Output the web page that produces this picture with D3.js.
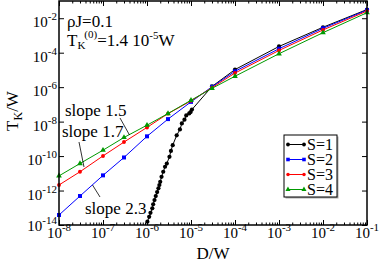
<!DOCTYPE html>
<html>
<head>
<meta charset="utf-8">
<script src="https://d3js.org/d3.v7.min.js"></script>
</head>
<body style="margin:0;background:#fff">
<script>
// Data
const dGrid = [1e-8, 3e-8, 1e-7, 3e-7, 1e-6, 3e-6, 1e-5, 3e-5, 1e-4, 1e-3, 1e-2, 1e-1];
const tkS2 = [3.8e-14, 4.8e-13, 7.6e-12, 8.3e-11, 1.4e-9, 1.4e-8, 1.4e-7, 1.05e-6, 8.3e-6, 1.7e-4, 2.6e-3, 2.95e-2];
const tkS3 = [2.1e-12, 1.23e-11, 1.02e-10, 6.5e-10, 4.6e-9, 2.9e-8, 1.6e-7, 9.3e-7, 6.6e-6, 1.35e-4, 2.1e-3, 2.6e-2];
const tkS4 = [7.1e-12, 3.7e-11, 2.2e-10, 1.2e-9, 6.2e-9, 2.95e-8, 1.74e-7, 8.5e-7, 4.3e-6, 8.7e-5, 1.45e-3, 2.1e-2];
const dS1 = [1.02e-6, 1.12e-6, 1.2e-6, 1.32e-6, 1.38e-6, 1.48e-6, 1.58e-6, 1.7e-6, 1.82e-6, 1.91e-6,
             2.0e-6, 2.14e-6, 2.34e-6, 2.57e-6, 2.82e-6, 3.24e-6, 3.5e-6, 3.84e-6, 4.73e-6, 5.6e-6,
             6.2e-6, 7.1e-6, 7.8e-6, 9.1e-6, 9.8e-6, 1.05e-5, 3e-5, 1e-4, 1e-3, 1e-2, 1e-1];
const tkS1 = [1.55e-14, 3.0e-14, 5.1e-14, 9.3e-14, 1.6e-13, 2.8e-13, 4.8e-13, 8.1e-13, 1.35e-12, 2.1e-12,
              3.2e-12, 6.3e-12, 1.23e-11, 2.4e-11, 3.7e-11, 9.1e-11, 2.0e-10, 4.3e-10, 1.6e-9, 3.5e-9,
              7.8e-9, 1.3e-8, 2.3e-8, 3.0e-8, 3.6e-8, 5.0e-8, 1.1e-6, 1.05e-5, 2.3e-4, 3.0e-3, 3.2e-2];
const seriesNames = ["S=1", "S=2", "S=3", "S=4"];
const xTickExp = [-8, -7, -6, -5, -4, -3, -2, -1];
const yTickExp = [-14, -12, -10, -8, -6, -4, -2];

const W = 382, H = 264;
const margin = { top: 1, right: 15, bottom: 39, left: 59 };
const width = W - margin.left - margin.right,
      height = H - margin.top - margin.bottom;

const svg = d3.select("body").append("svg")
    .attr("width", W).attr("height", H);
const g = svg.append("g")
    .attr("transform", "translate(" + margin.left + "," + margin.top + ")");

const x = d3.scaleLog().domain([1e-8, 1e-1]).range([0, width]);
const y = d3.scaleLog().domain([1e-14, 1e-1]).range([height, 0]);

// minor x ticks 2..9 per decade
const xMinor = [];
xTickExp.slice(0, -1).forEach(e => { for (let k = 2; k < 10; k++) xMinor.push(k * Math.pow(10, e)); });
const xMajor = xTickExp.map(e => Math.pow(10, e));
const yMajor = yTickExp.map(e => Math.pow(10, e));

function tickAxis(axis, transform) {
  const a = g.append("g").attr("transform", transform).call(axis);
  a.select(".domain").remove();
  a.selectAll("line").attr("stroke", "#000").attr("stroke-width", 1);
  return a;
}
tickAxis(d3.axisBottom(x).tickValues(xMajor).tickSize(-5).tickFormat(""), `translate(0,${height})`);
tickAxis(d3.axisBottom(x).tickValues(xMinor).tickSize(-2.5).tickFormat(""), `translate(0,${height})`);
tickAxis(d3.axisTop(x).tickValues(xMajor).tickSize(-5).tickFormat(""), "translate(0,0)");
tickAxis(d3.axisTop(x).tickValues(xMinor).tickSize(-2.5).tickFormat(""), "translate(0,0)");
tickAxis(d3.axisLeft(y).tickValues(yMajor).tickSize(-5).tickFormat(""), "translate(0,0)");
tickAxis(d3.axisRight(y).tickValues(yMajor).tickSize(-5).tickFormat(""), `translate(${width},0)`);

// tick labels 10^n
xTickExp.forEach(e => {
  const t = g.append("text")
      .attr("x", x(Math.pow(10, e))).attr("y", height + 12.5)
      .attr("text-anchor", "middle").style("font-size", "15px");
  t.append("tspan").text("10");
  t.append("tspan").attr("dy", -7).style("font-size", "11px").text(e);
});
yTickExp.forEach(e => {
  const t = g.append("text")
      .attr("x", -2).attr("y", y(Math.pow(10, e)) + (e === -14 ? 6 : 9))
      .attr("text-anchor", "end").style("font-size", "15px");
  t.append("tspan").text("10");
  t.append("tspan").attr("dy", -7).style("font-size", "11px").text(e);
});

// axis titles
g.append("text").attr("x", width / 2).attr("y", height + 34)
    .attr("text-anchor", "middle").style("font-size", "17px").text("D/W");
const yt = svg.append("text")
    .attr("transform", `translate(18,${margin.top + 110}) rotate(-90)`)
    .attr("text-anchor", "middle").style("font-size", "17px");
yt.append("tspan").text("T");
yt.append("tspan").attr("dy", 4).style("font-size", "12px").text("K");
yt.append("tspan").attr("dy", -4).text("/W");

// series
const colors = ["#000000", "#0000ff", "#ff0000", "#009900"];
const data = [
  dS1.map((d, i) => [d, tkS1[i]]),
  dGrid.map((d, i) => [d, tkS2[i]]),
  dGrid.map((d, i) => [d, tkS3[i]]),
  dGrid.map((d, i) => [d, tkS4[i]])
];
const symbols = [d3.symbolCircle, d3.symbolSquare, d3.symbolCircle, d3.symbolTriangle];
const symSize = [14, 16, 12, 14];
const line = d3.line().x(d => x(d[0])).y(d => y(d[1]));

data.forEach((ser, s) => {
  g.append("path").datum(ser)
      .attr("d", line).attr("fill", "none")
      .attr("stroke", colors[s]).attr("stroke-width", 1);
  g.selectAll(".m" + s).data(ser).enter().append("path")
      .attr("class", "m" + s)
      .attr("transform", d => `translate(${x(d[0])},${y(d[1])})`)
      .attr("d", d3.symbol().type(symbols[s]).size(symSize[s]))
      .attr("fill", colors[s]);
});

// frame
g.append("rect").attr("width", width).attr("height", height)
    .attr("fill", "none").attr("stroke", "#000").attr("stroke-width", 1.5);

// annotations
const ann = svg.append("g").style("font-size", "17px");
ann.append("text").attr("x", 67).attr("y", 27).text("ρJ=0.1");
const tk = ann.append("text").attr("x", 67).attr("y", 46);
tk.append("tspan").text("T");
tk.append("tspan").attr("dy", 3).style("font-size", "11px").text("K");
tk.append("tspan").attr("dy", -11).attr("dx", -1).style("font-size", "11px").text("(0)");
tk.append("tspan").attr("dy", 8).text("=1.4 10");
tk.append("tspan").attr("dy", -7).style("font-size", "11px").text("-5");
tk.append("tspan").attr("dy", 7).text("W");

ann.append("text").attr("x", 65).attr("y", 116).text("slope 1.5");
ann.append("text").attr("x", 62).attr("y", 137).text("slope 1.7");
ann.append("text").attr("x", 85).attr("y", 214).text("slope 2.3");
const leaders = [[120, 118, 129.5, 135], [79, 142, 84, 167], [100, 197, 92.5, 185]];
leaders.forEach(l => svg.append("line")
    .attr("x1", l[0]).attr("y1", l[1]).attr("x2", l[2]).attr("y2", l[3])
    .attr("stroke", "#000").attr("stroke-width", 0.8));

// legend
const lg = svg.append("g").attr("transform", "translate(284,135)");
lg.append("rect").attr("x", 1.5).attr("y", 1.5).attr("width", 53).attr("height", 62).attr("fill", "#aaa");
lg.append("rect").attr("width", 53).attr("height", 62).attr("fill", "#fff")
    .attr("stroke", "#000").attr("stroke-width", 1);
seriesNames.forEach((name, s) => {
  const yy = 9.5 + s * 15;
  lg.append("line").attr("x1", 4).attr("x2", 20).attr("y1", yy).attr("y2", yy)
      .attr("stroke", colors[s]).attr("stroke-width", 1);
  [4, 20].forEach(xx => lg.append("path")
      .attr("transform", `translate(${xx},${yy})`)
      .attr("d", d3.symbol().type(symbols[s]).size(symSize[s] * 0.8))
      .attr("fill", colors[s]));
  lg.append("text").attr("x", 23).attr("y", yy + 5).style("font-size", "16px").text(name);
});

// serif font on every text
svg.selectAll("text").style("font-family", '"Liberation Serif"');
</script>
</body>
</html>
